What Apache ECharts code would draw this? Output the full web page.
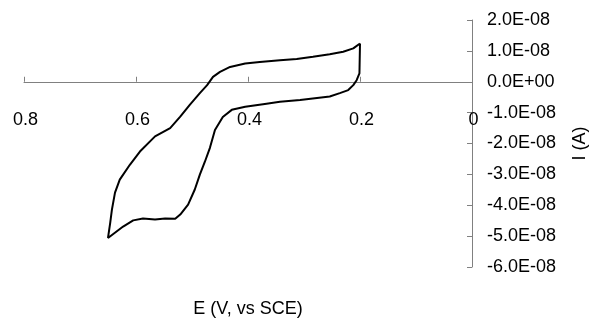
<!DOCTYPE html>
<html>
<head>
<meta charset="utf-8">
<script src="https://cdn.jsdelivr.net/npm/echarts@6/dist/echarts.min.js"></script>
<style>
  html, body { margin: 0; padding: 0; background: #fff; }
  #chart { width: 594px; height: 320px; }
</style>
</head>
<body>
<div id="chart"></div>
<script>
  // potential (V vs SCE), traced round the loop
  let potential = [
    0.200, 0.212, 0.230, 0.254, 0.284, 0.313, 0.343, 0.379, 0.405, 0.432,
    0.450, 0.4625, 0.473, 0.486, 0.504, 0.521, 0.539, 0.566, 0.593, 0.611,
    0.629, 0.6375, 0.643, 0.646, 0.650,
    0.623, 0.605, 0.5875, 0.566, 0.548, 0.530, 0.521, 0.507, 0.495, 0.486,
    0.477, 0.468, 0.459, 0.445, 0.429, 0.405, 0.370, 0.343, 0.307, 0.254,
    0.236, 0.221, 0.212, 0.206, 0.201, 0.200
  ]
  // current (A)
  let current = [
    1.24e-8, 1.08e-8, 0.97e-8, 0.89e-8, 0.81e-8, 0.74e-8, 0.70e-8, 0.64e-8, 0.59e-8, 0.48e-8,
    0.32e-8, 0.16e-8, -0.11e-8, -0.37e-8, -0.75e-8, -1.13e-8, -1.50e-8, -1.77e-8, -2.26e-8, -2.69e-8,
    -3.17e-8, -3.59e-8, -4.14e-8, -4.56e-8, -5.06e-8,
    -4.69e-8, -4.49e-8, -4.43e-8, -4.46e-8, -4.43e-8, -4.44e-8, -4.30e-8, -3.98e-8, -3.49e-8, -3.01e-8,
    -2.59e-8, -2.14e-8, -1.56e-8, -1.14e-8, -0.91e-8, -0.81e-8, -0.72e-8, -0.65e-8, -0.59e-8, -0.48e-8,
    -0.37e-8, -0.27e-8, -0.11e-8, 0.05e-8, 0.27e-8, 1.24e-8
  ]
  let xTicks = [0, 0.2, 0.4, 0.6, 0.8]
  let yTicks = [-6e-8, -5e-8, -4e-8, -3e-8, -2e-8, -1e-8, 0, 1e-8, 2e-8]

  let font = "'Liberation Sans', Arial, sans-serif"
  let axisGrey = '#808080'

  function sci(v) {
    if (Math.abs(v) < 1e-15) return '0.0E+00'
    let parts = v.toExponential(1).split('e')
    let exp = parseInt(parts[1], 10)
    let sign = exp < 0 ? '-' : '+'
    let e = String(Math.abs(exp))
    if (e.length < 2) e = '0' + e
    return parts[0] + 'E' + sign + e
  }

  let points = potential.map((e, i) => [e, current[i]])

  let gridTop = 20
  let gridBottom = 53
  let plotH = 320 - gridTop - gridBottom
  let yMin = yTicks[0]
  let yMax = yTicks[yTicks.length - 1]
  // x axis crosses at I = 0, shifted up from the bottom of the grid with offset
  let zeroShift = plotH * (0 - yMin) / (yMax - yMin)

  let chart = echarts.init(document.getElementById('chart'), null, { renderer: 'canvas' })
  chart.setOption({
    backgroundColor: '#fff',
    animation: false,
    grid: {
      left: 24,
      right: 122,
      top: gridTop,
      bottom: gridBottom,
      outerBoundsMode: 'none'
    },
    xAxis: {
      type: 'value',
      inverse: true,
      min: xTicks[0],
      max: xTicks[xTicks.length - 1],
      interval: 0.2,
      offset: -zeroShift,
      name: 'E (V, vs SCE)',
      nameLocation: 'middle',
      nameGap: 218,
      nameTextStyle: { fontFamily: font, fontSize: 18, color: '#000' },
      axisLine: { show: true, onZero: false, lineStyle: { color: axisGrey, width: 1 } },
      axisTick: { show: true, inside: true, length: 5, lineStyle: { color: axisGrey } },
      axisLabel: {
        margin: 29,
        fontFamily: font,
        fontSize: 18,
        color: '#000',
        padding: [0, 0, 0, 3]
      },
      splitLine: { show: false }
    },
    yAxis: {
      type: 'value',
      position: 'right',
      min: yMin,
      max: yMax,
      interval: 1e-8,
      name: 'I (A)',
      nameLocation: 'middle',
      nameGap: 99,
      nameTextStyle: { fontFamily: font, fontSize: 18, color: '#000' },
      axisLine: { show: true, onZero: false, lineStyle: { color: axisGrey, width: 1 } },
      axisTick: { show: true, inside: true, length: 5, lineStyle: { color: axisGrey } },
      axisLabel: {
        margin: 15,
        fontFamily: font,
        fontSize: 18,
        color: '#000',
        padding: [10, 0, 0, 0],
        formatter: sci
      },
      splitLine: { show: false }
    },
    series: [
      {
        type: 'line',
        data: points,
        showSymbol: false,
        lineStyle: { color: '#000', width: 2 },
        clip: false
      }
    ]
  })
</script>
</body>
</html>
